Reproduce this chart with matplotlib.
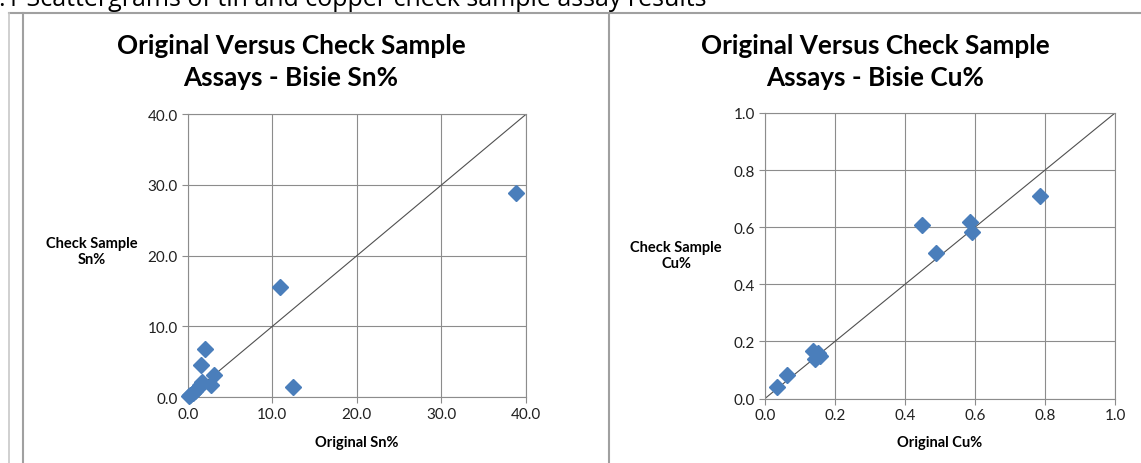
import matplotlib
matplotlib.use("Agg")
import matplotlib.pyplot as plt
from matplotlib.lines import Line2D

# ---- data ----
sn_original = [38.8, 10.9, 12.5, 2.05, 1.6, 3.1, 2.8, 0.1, 0.3, 0.6, 0.9, 1.2, 1.4, 1.65]
sn_check    = [28.9, 15.6, 1.45, 6.85, 4.5, 3.15, 1.75, 0.1, 0.35, 0.6, 0.85, 1.3, 1.7, 2.2]
cu_original = [0.786, 0.449, 0.489, 0.586, 0.591, 0.033, 0.062, 0.137, 0.143, 0.157, 0.150]
cu_check    = [0.709, 0.608, 0.510, 0.618, 0.583, 0.041, 0.082, 0.166, 0.140, 0.149, 0.158]
sn_ticks = [0.0, 10.0, 20.0, 30.0, 40.0]
cu_ticks = [0.0, 0.2, 0.4, 0.6, 0.8, 1.0]

caption = ".1 Scattergrams of tin and copper check sample assay results"
titles = ["Original Versus Check Sample\nAssays - Bisie Sn%", "Original Versus Check Sample\nAssays - Bisie Cu%"]
ylabels = ["Check Sample\nSn%", "Check Sample\nCu%"]
xlabels = ["Original Sn%", "Original Cu%"]

W, H = 1141, 464
fig = plt.figure(figsize=(W / 100, H / 100), dpi=100)
FONT = "Lato"
grid_c = "#8c8c8c"
mark_c = "#4a7ebb"

def fx(px):
    return px / W

def fy(py):
    return 1 - py / H

# caption (cut at top, as in the reference)
fig.text(fx(-1), fy(6), caption, ha="left", va="baseline", fontsize=18.0,
         family="Open Sans", color="black")

# frame lines
frame_c = "#a0a0a0"
fig.add_artist(Line2D([fx(9), fx(1141)], [fy(13.5), fy(13.5)], color=frame_c, lw=1.5))
fig.add_artist(Line2D([fx(9), fx(9)], [fy(13.5), fy(464)], color="#c8c8c8", lw=1.2))
fig.add_artist(Line2D([fx(23), fx(23)], [fy(13.5), fy(464)], color=frame_c, lw=1.5))
fig.add_artist(Line2D([fx(609), fx(609)], [fy(13.5), fy(464)], color=frame_c, lw=1.5))

panels = [
    dict(rect=(187.7, 115.3, 526, 398.1), x=sn_original, y=sn_check, ticks=sn_ticks,
         fmt="{:.1f}", title_x=291, ylab_x=92, ylab_y=252, xlab_y=443),
    dict(rect=(765, 114, 1115, 399.5), x=cu_original, y=cu_check, ticks=cu_ticks,
         fmt="{:.1f}", title_x=875, ylab_x=676, ylab_y=256, xlab_y=443),
]

for i, p in enumerate(panels):
    x0, y0, x1, y1 = p["rect"]
    ax = fig.add_axes([fx(x0), fy(y1), (x1 - x0) / W, (y1 - y0) / H])
    lo, hi = p["ticks"][0], p["ticks"][-1]
    ax.set_xlim(lo, hi)
    ax.set_ylim(lo, hi)
    ax.set_xticks(p["ticks"])
    ax.set_yticks(p["ticks"])
    ax.set_xticklabels([p["fmt"].format(t) for t in p["ticks"]], family=FONT, fontsize=11)
    ax.set_yticklabels([p["fmt"].format(t) for t in p["ticks"]], family=FONT, fontsize=11)
    ax.grid(True, color=grid_c, lw=0.8)
    ax.set_axisbelow(True)
    for s in ax.spines.values():
        s.set_color(grid_c)
        s.set_linewidth(0.8)
    ax.tick_params(length=4, color=grid_c, width=0.8, pad=3, labelcolor="#202020")
    ax.plot([lo, hi], [lo, hi], color="#505050", lw=0.8, zorder=2)
    ax.plot(p["x"], p["y"], linestyle="none", marker="D", ms=8.5, color=mark_c,
            markeredgecolor=mark_c, zorder=3, clip_on=False)
    fig.text(fx(p["title_x"]), fy(62.5), titles[i], ha="center", va="center",
             fontsize=18.8, fontweight="bold", family=FONT, linespacing=1.4)
    fig.text(fx(p["ylab_x"]), fy(p["ylab_y"]), ylabels[i], ha="center", va="center",
             fontsize=10.5, fontweight="bold", family=FONT, linespacing=1.2)
    fig.text(fx((x0 + x1) / 2), fy(p["xlab_y"]), xlabels[i], ha="center", va="center",
             fontsize=10.5, fontweight="bold", family=FONT)

fig.savefig("out.png", dpi=100)
